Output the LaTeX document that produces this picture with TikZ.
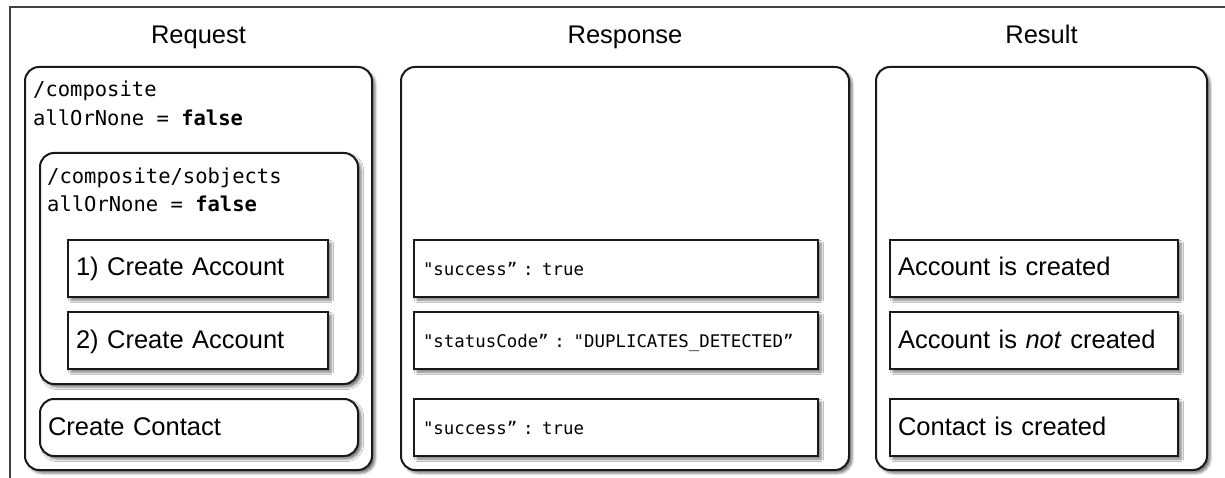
\documentclass[tikz,border=0pt]{standalone}
\usepackage{fontspec}
\setmainfont{Liberation Sans}
\setmonofont{DejaVu Sans Mono}
\usetikzlibrary{positioning,shadows.blur}

\tikzset{
  boxbase/.style={draw=black!90, line width=2pt, fill=white, anchor=north west,
    blur shadow={shadow xshift=3pt, shadow yshift=-3pt, shadow blur radius=2.5pt, shadow opacity=55}},
  panel/.style={boxbase, rounded corners=14pt, minimum height=403pt},
  stepbox/.style={boxbase, minimum height=57pt, inner xsep=8pt, align=left,
    font=\fontsize{25.5}{30}\selectfont, text height=18pt, text depth=3pt},
  codebox/.style={stepbox, inner xsep=9pt, font=\fontsize{17.4}{20}\ttfamily, text height=14pt, text depth=0pt},
  codelabel/.style={inner sep=0pt, anchor=base west, font=\fontsize{20.5}{24}\ttfamily},
  coltitle/.style={inner sep=0pt, anchor=base, font=\fontsize{25.5}{30}\selectfont},
  frameline/.style={draw=black!75, line width=2pt}
}

\begin{document}
\begin{tikzpicture}[x=1pt, y=-1pt]
  \useasboundingbox (0,0) rectangle (1225,478);
  \draw[frameline] (1240,7.5) -| (10,490);

  % request column
  \node[panel, minimum width=347pt] (reqbox) at (24,66) {};
  \node[coltitle] (reqtitle) at ([yshift=22pt]reqbox.north) {Request};
  \node[codelabel] (reqpath) at ([xshift=9pt, yshift=-31pt]reqbox.north west) {/composite};
  \node[codelabel] (reqflag) at ([yshift=-29pt]reqpath.base west) {allOrNone = \textbf{false}};

  \node[boxbase, rounded corners=14pt, minimum width=318pt, minimum height=231pt] (sobjbox) at (39,152) {};
  \node[codelabel] (sobjpath) at ([xshift=8pt, yshift=-32pt]sobjbox.north west) {/composite/sobjects};
  \node[codelabel] (sobjflag) at ([yshift=-28pt]sobjpath.base west) {allOrNone = \textbf{false}};

  \node[stepbox, text width=244pt] (acctone) at (67,239) {1) Create Account};
  \node[stepbox, text width=244pt] (accttwo) at (67,311) {2) Create Account};
  \node[stepbox, rounded corners=14pt, text width=302pt] (contact) at (39,398) {Create Contact};

  % response column
  \node[panel, minimum width=448pt] (respbox) at (400,66) {};
  \node[coltitle] (resptitle) at ([yshift=22pt]respbox.north) {Response};
  \node[codebox, text width=386pt] (respone) at (413,239) {"success” : true};
  \node[codebox, text width=386pt] (resptwo) at (413,311) {"statusCode” : "DUPLICATES\_DETECTED”};
  \node[codebox, text width=386pt] (respthree) at (413,398) {"success” : true};

  % result column
  \node[panel, minimum width=331pt] (resbox) at (875,66) {};
  \node[coltitle] (restitle) at ([yshift=22pt]resbox.north) {Result};
  \node[stepbox, text width=272pt] (resone) at (889,239) {Account is created};
  \node[stepbox, text width=272pt] (restwo) at (889,311) {Account is \textit{not} created};
  \node[stepbox, text width=272pt] (resthree) at (889,398) {Contact is created};
\end{tikzpicture}
\end{document}
